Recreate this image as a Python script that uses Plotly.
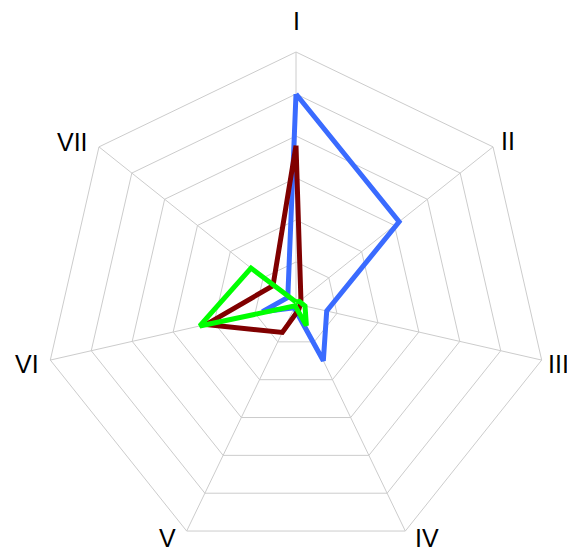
import plotly.graph_objects as go

# -----------------------------------
# DATA
# -----------------------------------

axes_labels = ["I", "II", "III", "IV", "V", "VI", "VII"]

blue_vals = [5.0, 3.14, 0.75, 1.5, 0.1, 0.82, 0.25]
darkred_vals = [3.77, 0.15, 0.1, 0.15, 0.75, 2.2, 0.7]
green_vals = [0.05, 0.1, 0.22, 0.57, 0.05, 2.35, 1.37]

series_names = ["blue", "darkred", "green"]
series_colors = ["#3a6bff", "#800000", "#00ff00"]

# -----------------------------------
# META SETTINGS
# -----------------------------------

W, H = 575, 551
margin = dict(l=30, r=29, t=44, b=3)
body_offset = 8  # default body margin of the html page

# label centres in page pixels (the reference places them off the exact spoke direction)
label_px = [(296, 21), (508, 141), (558, 364), (427, 538), (167, 538), (27, 364), (72, 142)]

def px_to_paper(x, y):
    pw = W - margin["l"] - margin["r"]
    ph = H - margin["t"] - margin["b"]
    return ((x - body_offset - margin["l"]) / pw,
            1 - (y - body_offset - margin["t"]) / ph)

def closed(vals):
    # repeat first point so the polygon closes
    return vals + vals[:1]

# -----------------------------------
# FIGURE
# -----------------------------------

fig = go.Figure()
for name, vals, color in zip(series_names, [blue_vals, darkred_vals, green_vals], series_colors):
    fig.add_trace(go.Scatterpolar(
        r=closed(vals), theta=closed(axes_labels), name=name,
        mode="lines", line=dict(color=color, width=5),
    ))

for label, (lx, ly) in zip(axes_labels, label_px):
    ax, ay = px_to_paper(lx, ly)
    fig.add_annotation(text=label, x=ax, y=ay, xref="paper", yref="paper",
                       xanchor="center", yanchor="middle", showarrow=False,
                       font=dict(size=25, color="black"))

fig.update_layout(
    width=W, height=H,
    margin=margin,
    showlegend=False,
    paper_bgcolor="white",
    font=dict(family="Liberation Sans, Arial", size=25, color="black"),
    polar=dict(
        bgcolor="white",
        gridshape="linear",
        radialaxis=dict(range=[0, 6], dtick=1, showticklabels=False, ticks="",
                        showline=False, gridcolor="#cccccc", gridwidth=1),
        angularaxis=dict(rotation=90, direction="clockwise", ticks="",
                         showticklabels=False,
                         showline=True, linecolor="#cccccc", linewidth=1,
                         gridcolor="#cccccc", gridwidth=1),
    ),
)

fig.write_html("out.html")
